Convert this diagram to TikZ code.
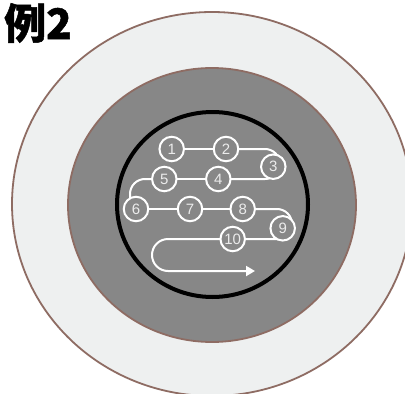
\documentclass[tikz,border=0pt]{standalone}
\usepackage{fontspec}
\setmainfont{Liberation Sans}
\newfontfamily\cjk{Noto Sans CJK SC}[BoldFeatures={FakeBold=1.2}]
\usetikzlibrary{arrows.meta}
\definecolor{ringline}{HTML}{8E6C63}
\definecolor{ringfill}{HTML}{EEF0F0}
\definecolor{corefill}{HTML}{878787}
\begin{document}
\begin{tikzpicture}[x=1pt,y=-1pt,
  ring/.style={draw=ringline,line width=1.8pt},
  wire/.style={draw=white,line width=2pt},
  num/.style={circle,draw=white,line width=2pt,fill=corefill,minimum size=24.5pt,inner sep=0pt,
    text=white!92!black,font=\fontsize{15}{15}\selectfont}]
\useasboundingbox (0,0) rectangle (405,394);
\clip (0,0) rectangle (405,394);
\fill[white] (0,0) rectangle (405,394);
% rings
\draw[ring,fill=ringfill] (212,204) ellipse[x radius=200,y radius=192];
\draw[ring,fill=corefill] (212,205) ellipse[x radius=144,y radius=137];
\draw[black,line width=4pt] (212.5,204.5) ellipse[x radius=95.5,y radius=92.5];
% title
\node[anchor=base west,inner sep=0pt,font=\cjk\bfseries\fontsize{42}{42}\selectfont] (title) at (4,39) {例2};
% turning points
\coordinate (t1) at (280,149);
\coordinate (t2) at (280,164);
\coordinate (t3) at (130,179);
\coordinate (t4) at (130,199);
\coordinate (t5) at (292,209);
\coordinate (t6) at (292,224);
\coordinate (u1) at (152,239);
\coordinate (u2) at (152,271);
\coordinate (tip) at (255,271);
% node positions
\coordinate (p1) at (171.7,149);
\coordinate (p2) at (226,149);
\coordinate (p3) at (273.3,166.7);
\coordinate (p4) at (218.3,179);
\coordinate (p5) at (164.3,179);
\coordinate (p6) at (136,209);
\coordinate (p7) at (190,209);
\coordinate (p8) at (242.7,209);
\coordinate (p9) at (282.7,228.3);
\coordinate (p10) at (232.7,239);
% wires
\draw[wire] (p1) -- (p2);
\draw[wire,rounded corners=15pt] (p2) -- (t1) -- (t2);
\draw[wire,rounded corners=15pt] (t2) -- (280,179) -- (p4);
\draw[wire] (p4) -- (p5);
\draw[wire,rounded corners=15pt] (p5) -- (t3) -- (t4);
\draw[wire] (p6) -- (p7);
\draw[wire] (p7) -- (p8);
\draw[wire,rounded corners=15pt] (p8) -- (t5) -- (t6);
\draw[wire,rounded corners=15pt] (t6) -- (292,239) -- (p10);
\draw[wire,rounded corners=16pt,-{Triangle[length=9pt,width=10pt]}] (p10) -- (u1) -- (u2) -- (tip);
% nodes
\foreach \i in {1,...,10} {\node[num] (n\i) at (p\i) {\i};}
\end{tikzpicture}
\end{document}
